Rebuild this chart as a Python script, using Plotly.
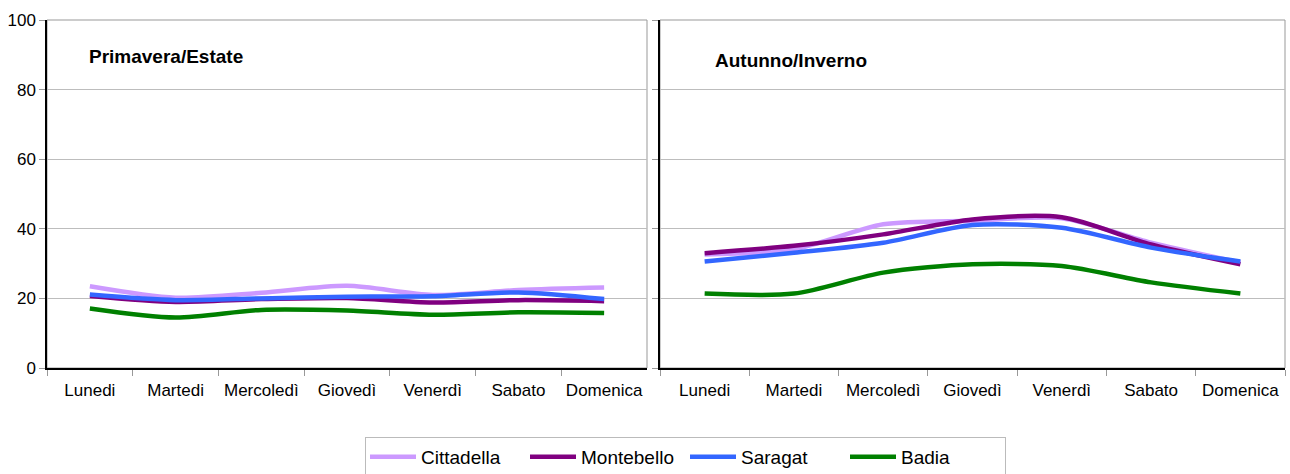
import plotly.graph_objects as go

days = ["Lunedi", "Martedi", "Mercoledì", "Giovedì", "Venerdì", "Sabato", "Domenica"]
series_names = ["Cittadella", "Montebello", "Saragat", "Badia"]
colors = ["#CC99FF", "#800080", "#3366FF", "#008000"]

# Primavera/Estate
pe_cittadella = [23.5, 20.2, 21.6, 23.6, 21.0, 22.4, 23.1]
pe_montebello = [20.7, 19.0, 19.8, 20.1, 18.8, 19.5, 19.2]
pe_saragat = [21.1, 19.5, 20.0, 20.5, 20.6, 21.7, 19.8]
pe_badia = [17.1, 14.5, 16.7, 16.5, 15.3, 16.0, 15.8]

# Autunno/Inverno
ai_cittadella = [32.6, 34.1, 41.3, 42.3, 43.0, 36.0, 30.3]
ai_montebello = [33.0, 35.1, 38.4, 42.7, 43.3, 35.5, 29.8]
ai_saragat = [30.6, 33.1, 36.0, 41.1, 40.3, 34.6, 30.6]
ai_badia = [21.4, 21.4, 27.4, 29.8, 29.3, 24.6, 21.4]

pe = [pe_cittadella, pe_montebello, pe_saragat, pe_badia]
ai = [ai_cittadella, ai_montebello, ai_saragat, ai_badia]

FONT = "Liberation Sans, Arial, sans-serif"
W, H = 1290, 474
fig = go.Figure()

for i, name in enumerate(series_names):
    fig.add_trace(go.Scatter(x=days, y=pe[i], mode="lines", name=name,
                             line=dict(color=colors[i], width=4.5, shape="spline", smoothing=0.8),
                             xaxis="x", yaxis="y", legendgroup=name, showlegend=True))
for i, name in enumerate(series_names):
    fig.add_trace(go.Scatter(x=days, y=ai[i], mode="lines", name=name,
                             line=dict(color=colors[i], width=4.5, shape="spline", smoothing=0.8),
                             xaxis="x2", yaxis="y2", legendgroup=name, showlegend=False))

ydom = [1 - 368 / H, 1 - 20 / H]
xaxis_common = dict(type="category", showline=True, linecolor="black", linewidth=1.5,
                    ticks="outside", tickson="boundaries", ticklen=6, tickcolor="#999999",
                    showgrid=False, tickfont=dict(family=FONT, size=17, color="black"),
                    ticklabelstandoff=6,
                    range=[-0.5, 6.5], zeroline=False, automargin=False)
yaxis_common = dict(range=[0, 100], dtick=20, showline=True, linecolor="black", linewidth=1.5,
                    ticks="outside", ticklen=6, tickcolor="#999999", showgrid=True,
                    gridcolor="#BDBDBD", gridwidth=1, zeroline=False, automargin=False,
                    tickfont=dict(family=FONT, size=17, color="black"), domain=ydom)

fig.update_layout(
    width=W, height=H,
    margin=dict(l=0, r=0, t=0, b=0, autoexpand=False),
    paper_bgcolor="white", plot_bgcolor="white",
    font=dict(family=FONT, color="black"),
    xaxis=dict(domain=[47 / W, 647 / W], anchor="y", **xaxis_common),
    yaxis=dict(anchor="x", **yaxis_common),
    xaxis2=dict(domain=[660 / W, 1285 / W], anchor="y2", **xaxis_common),
    yaxis2=dict(anchor="x2", showticklabels=False, **yaxis_common),
    legend=dict(orientation="h", x=365 / W, xanchor="left", y=1 - 437 / H, yanchor="top",
                bordercolor="#BBBBBB", borderwidth=1, font=dict(family=FONT, size=19),
                itemwidth=46, entrywidth=99, entrywidthmode="pixels", tracegroupgap=0),
    shapes=[
        dict(type="rect", xref="x domain", yref="y domain", x0=0, x1=1, y0=0, y1=1,
             line=dict(color="#999999", width=1), layer="below"),
        dict(type="rect", xref="x2 domain", yref="y2 domain", x0=0, x1=1, y0=0, y1=1,
             line=dict(color="#999999", width=1), layer="below"),
    ],
    annotations=[
        dict(text="<b>Primavera/Estate</b>", xref="paper", yref="paper", x=87 / W, y=1 - 57 / H,
             xanchor="left", yanchor="middle", showarrow=False, font=dict(family=FONT, size=19)),
        dict(text="<b>Autunno/Inverno</b>", xref="paper", yref="paper", x=713 / W, y=1 - 60 / H,
             xanchor="left", yanchor="middle", showarrow=False, font=dict(family=FONT, size=19)),
    ],
)

fig.write_html("out.html", config={"displayModeBar": False},
               post_script="document.body.style.margin='0';document.body.style.overflow='hidden';")
